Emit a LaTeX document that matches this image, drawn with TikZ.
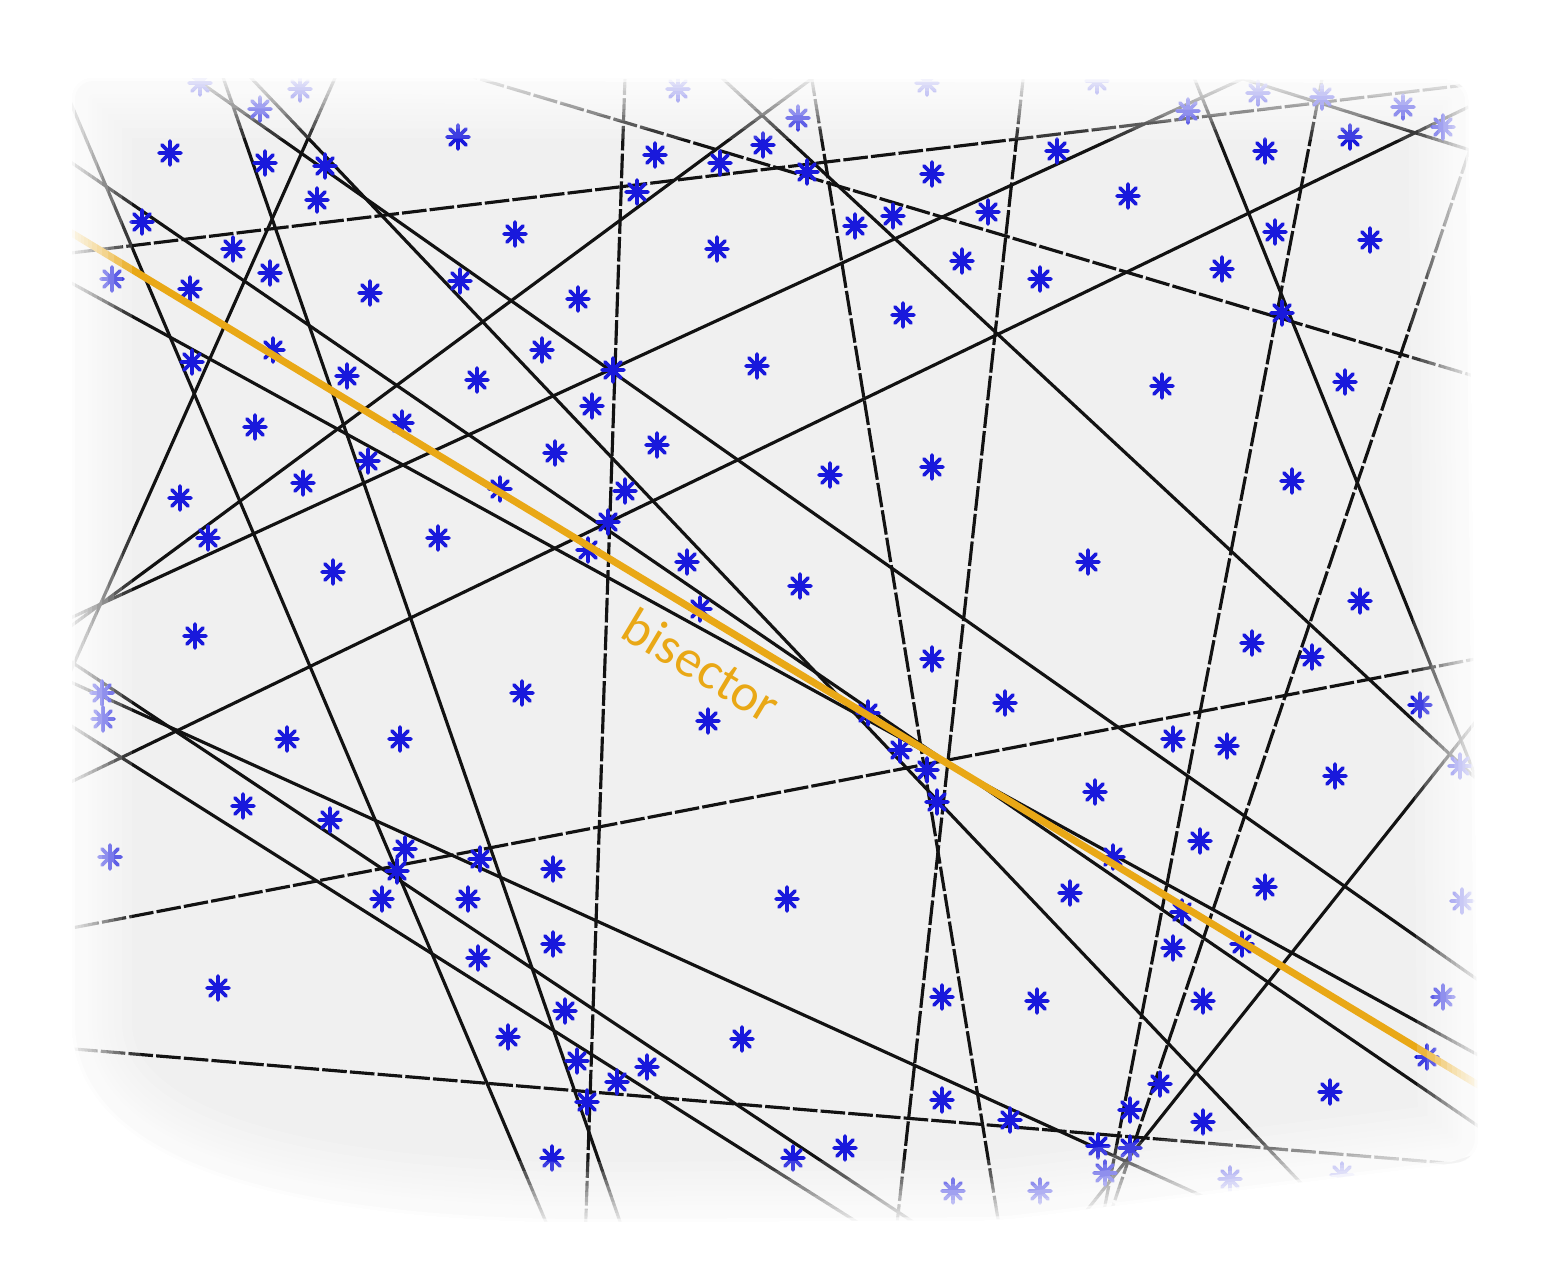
\documentclass[tikz,border=0pt]{standalone}
\usepackage{fontspec}
\setmainfont{Carlito}
\usetikzlibrary{calc}
\definecolor{bgray}{RGB}{240,240,240}
\definecolor{starblue}{RGB}{25,25,220}
\definecolor{bisorange}{RGB}{233,168,22}
\definecolor{linegray}{RGB}{18,18,18}
\newcommand\bline[3][]{\draw[blk,#1] ($#2!-0.08!#3$) -- ($#2!1.08!#3$);}
\begin{document}
\begin{tikzpicture}[x=0.01cm,y=-0.01cm,
  blk/.style={linegray, line width=0.9pt},
  dsh/.style={dash pattern=on 7pt off 0.9pt},
  ast/.pic={\draw[starblue, line width=1.05pt, line cap=round]
     (-11,0)--(11,0) (0,-12)--(0,12) (-8,-8)--(8,8) (-8,8)--(8,-8);}
]
\useasboundingbox (0,0) rectangle (1565,1276);
\begin{scope}
\clip[rounded corners=6pt] (72,78) -- (1468,80) -- (1478,1160) -- (1000,1220) -- (560,1222) .. controls (300,1215) and (72,1170) .. (72,1000) -- cycle;
\fill[bgray] (0,0) rectangle (1565,1276);
% dashed-looking lines
\bline[dsh]{(71,253)}{(1449,87)}
\bline[dsh]{(480,79)}{(1474,376)}
\bline[dsh]{(77,927)}{(1470,660)}
\bline[dsh]{(74,1049)}{(1470,1165)}
\bline[dsh]{(625,78)}{(586,1215)}
\bline[dsh]{(812,80)}{(997,1213)}
\bline[dsh]{(1023,80)}{(898,1215)}
\bline[dsh]{(1318,100)}{(1108,1190)}
\bline[dsh]{(1468,155)}{(1115,1200)}
% solid lines
\bline{(75,113)}{(537,1201)}
\bline{(224,80)}{(617,1213)}
\bline{(1195,80)}{(1465,750)}
\bline{(722,78)}{(1470,773)}
\bline{(77,615)}{(1240,80)}
\bline{(90,612)}{(810,80)}
\bline{(75,780)}{(1425,128)}
\bline{(335,78)}{(72,668)}
\bline{(75,684)}{(1200,1195)}
\bline{(197,80)}{(1478,980)}
\bline{(253,80)}{(1318,1201)}
\bline{(75,285)}{(1478,1055)}
\bline{(72,163)}{(1478,1126)}
\bline{(73,663)}{(880,1200)}
\bline{(73,727)}{(830,1205)}
\bline{(1095,1200)}{(1465,735)}
\bline{(1240,78)}{(1470,150)}
\bline{(1300,1212)}{(1478,1155)}
% stars
\foreach \x/\y in {200/83,260/109,300/89,678/89,798/118,927/83,1097/81,1188/111,1258/93,1322/97,1403/107,1443/127,
 170/153,265/163,325/166,317/200,142/222,233/249,270/273,112/279,190/289,370/293,273/350,192/362,347/376,402/423,255/427,368/461,303/483,180/498,208/538,333/572,195/636,
 458/137,655/155,763/145,720/163,807/172,637/192,515/234,717/249,460/281,578/299,542/350,477/380,613/370,757/366,592/406,657/445,555/453,500/489,625/491,608/522,438/538,588/550,687/562,800/586,700/609,
 1057/151,932/174,1128/196,855/226,893/216,988/212,962/261,1040/279,903/315,1162/386,830/475,932/467,1088/562,932/659,1265/151,1350/137,1275/232,1222/269,1370/240,1282/313,1345/382,1292/481,1360/601,1252/643,1312/657,
 102/693,103/719,287/739,400/739,243/806,330/820,110/857,405/849,397/871,382/899,218/988,
 522/693,708/721,480/859,553/869,787/899,468/899,553/944,478/958,565/1011,508/1037,742/1039,577/1061,647/1067,617/1082,587/1102,552/1158,793/1158,
 1005/703,1173/739,1095/792,868/713,900/750,927/770,937/802,1070/893,1113/857,1173/948,942/997,1037/1001,1160/1084,942/1100,1010/1120,845/1148,1130/1110,1098/1146,1130/1148,1105/1173,953/1191,1040/1191,1203/1122,
 1420/705,1227/746,1335/776,1460/766,1200/841,1265/887,1462/901,1182/912,1242/944,1203/1001,1443/997,1427/1057,1330/1092,1230/1179,1342/1175}
  \pic at (\x,\y) {ast};
% bisector
\draw[bisorange, line width=2pt] ($(70,232)!-0.05!(1470,1080)$) -- ($(70,232)!1.05!(1470,1080)$);
\end{scope}
% soft vignette
\foreach \w in {1.7,3.4,5.1,6.8,9.1,11.4,14.2,17.1,20.5,23.9,28.5,34.1}
  \draw[white, opacity=0.17, line width=\w pt, rounded corners=6pt, line join=round]
   (72,78) -- (1468,80) -- (1478,1160) -- (1000,1220) -- (560,1222) .. controls (300,1215) and (72,1170) .. (72,1000) -- cycle;
\draw[white, opacity=0.6, line width=1.7pt, rounded corners=6pt, line join=round]
   (72,78) -- (1468,80) -- (1478,1160) -- (1000,1220) -- (560,1222) .. controls (300,1215) and (72,1170) .. (72,1000) -- cycle;
\node[text=bisorange, rotate=-31, font=\fontsize{15}{18}\selectfont] (lbl) at (702,665) {bisector};
\end{tikzpicture}
\end{document}
